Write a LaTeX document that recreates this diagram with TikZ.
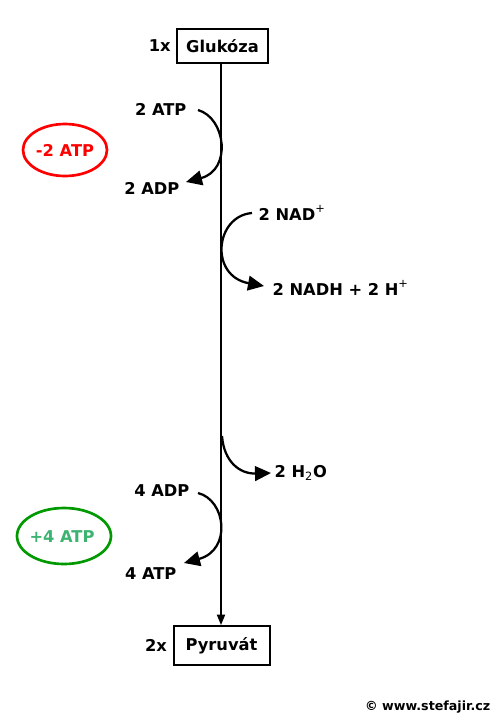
\documentclass[tikz,border=0pt]{standalone}
\usepackage{fontspec}
\setmainfont{DejaVu Sans}
\usetikzlibrary{arrows.meta}
\newcommand{\supp}[1]{\raisebox{1.5pt}{\textsuperscript{\mdseries #1}}}
\newcommand{\subb}[1]{\textsubscript{\mdseries #1}}
\begin{document}
\begin{tikzpicture}[x=0.75pt,y=-0.75pt,
  lbl/.style={font=\bfseries\fontsize{12.2}{14}\selectfont, inner sep=1pt},
  boxn/.style={draw, line width=1.5pt, minimum height=24pt, font=\bfseries\fontsize{12.2}{14}\selectfont},
  flow/.style={line width=1.7pt, -{Triangle[length=12pt,width=11pt]}},
  mainarr/.style={line width=1.6pt, -{Triangle[length=8pt,width=6pt]}}
]
\useasboundingbox (0,0) rectangle (500,719);
\fill[white] (0,0) rectangle (500,719);
% boxes
\node[boxn, minimum width=68pt, minimum height=25pt] (glu) at (222.5,46) {Glukóza};
\node[lbl, anchor=east] (n1) at ([xshift=-3pt]glu.west) {1x};
\node[boxn, minimum width=72pt, minimum height=29pt] (pyr) at (221.5,645.5) {Pyruvát};
\node[lbl, anchor=east] (n2) at ([xshift=-3pt]pyr.west) {2x};
\coordinate (top) at (221,62);
\draw[mainarr] (top) -- (pyr.north -| top);
% ATP consumption
\node[lbl, anchor=east] (atp1) at (188,109) {2 ATP};
\node[lbl, anchor=east] (adp1) at (181,188) {2 ADP};
\coordinate (s1) at (198,110);
\coordinate (e1) at (186,182);
\draw[flow] (s1) .. controls (226,118) and (232,170) .. (e1);
\draw[red, line width=2pt] (65,150) ellipse (42 and 26);
\node[font=\bfseries\fontsize{12.2}{14}\selectfont, text=red] (m2) at (65,150) {-2 ATP};
% NAD
\node[lbl, anchor=west] (nad) at (257,213) {2 NAD\supp{+}};
\node[lbl, anchor=west] (nadh) at (271,288) {2 NADH + 2 H\supp{+}};
\coordinate (s2) at (252,213);
\coordinate (e2) at (264,286);
\draw[flow] (s2) .. controls (215,216) and (209,276) .. (e2);
% water
\node[lbl, anchor=west] (h2o) at (273,473) {2 H\subb{2}O};
\coordinate (s3) at (222,436);
\coordinate (e3) at (271,473);
\draw[flow] (s3) .. controls (224,462) and (240,474) .. (e3);
% ATP production
\node[lbl, anchor=east] (adp4) at (191,491) {4 ADP};
\node[lbl, anchor=east] (atp4) at (178,574) {4 ATP};
\coordinate (s4) at (198,493);
\coordinate (e4) at (184,563);
\draw[flow] (s4) .. controls (226,500) and (232,550) .. (e4);
\draw[green!60!black, line width=2pt] (64,536) ellipse (47 and 28);
\node[font=\bfseries\fontsize{12.2}{14}\selectfont, text={rgb,255:red,60;green,179;blue,113}] (p4) at (62,537) {+4 ATP};
% copyright
\node[font=\bfseries\fontsize{9.5}{11}\selectfont, anchor=east] (cr) at (495,707) {© www.stefajir.cz};
\end{tikzpicture}
\end{document}
